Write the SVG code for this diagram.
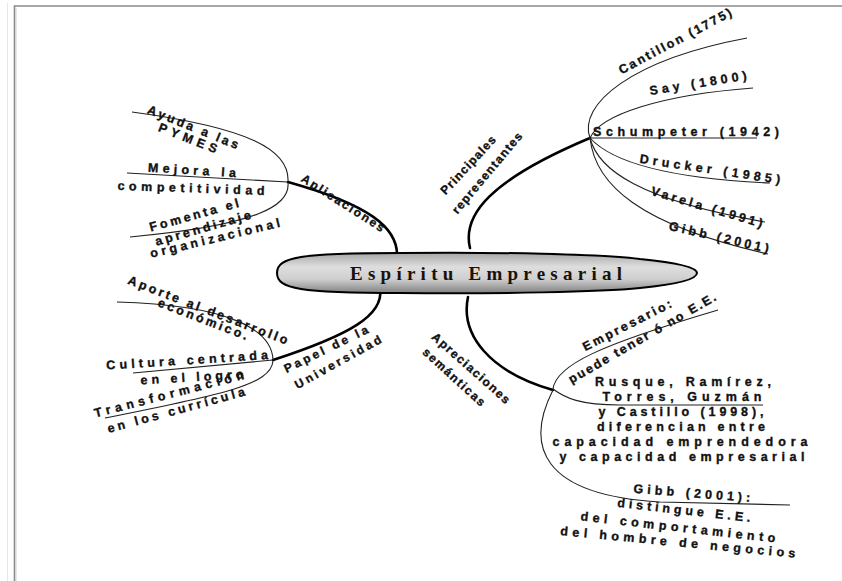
<svg xmlns="http://www.w3.org/2000/svg" width="842" height="581" viewBox="0 0 842 581">
<style>
.t{font-family:"Liberation Sans",Arial,sans-serif;font-weight:bold;font-size:12.5px;fill:#111;stroke:#111;stroke-width:0.35px;}
.s{font-size:12px;}
.br{fill:none;stroke:#222;stroke-width:1.1;}
.tr{fill:none;stroke:#000;stroke-width:2.6;stroke-linecap:round;}
.ct{font-family:"Liberation Serif","Times New Roman",serif;font-weight:bold;font-size:19px;fill:#1a1208;}
</style>
<defs>
<linearGradient id="g" x1="0" y1="0" x2="0" y2="1">
<stop offset="0" stop-color="#a6a6a6"/>
<stop offset="0.35" stop-color="#dedede"/>
<stop offset="0.65" stop-color="#cfcfcf"/>
<stop offset="1" stop-color="#808080"/>
</linearGradient>
</defs>
<rect width="842" height="581" fill="#fff"/>
<line x1="7.5" y1="3" x2="7.5" y2="581" stroke="#e6e6e6" stroke-width="1"/>
<path d="M14.5,581 V6 H842" fill="none" stroke="#8a8a8a" stroke-width="1.6"/>
<line x1="16" y1="8" x2="16" y2="581" stroke="#d0d0d0" stroke-width="1"/>

<g id="connectors">
<path class="tr" d="M470,248 C462,215 490,180 590,138"/>
<path class="tr" d="M397,256 C398,228 370,205 288,182"/>
<path class="tr" d="M380,289 C384,315 350,335 273,360"/>
<path class="tr" d="M468,297 C460,335 490,372 553,390"/>
<path class="br" d="M590,138 C578,105 630,60 747,38"/>
<path class="br" d="M590,138 C600,115 660,95 753,88"/>
<path class="br" d="M590,138 L757,138"/>
<path class="br" d="M590,138 C610,160 660,178 770,183"/>
<path class="br" d="M590,138 C598,170 640,200 765,222"/>
<path class="br" d="M590,138 C595,185 640,225 768,254"/>
<path class="br" d="M288,182 C290,150 250,128 132,112"/>
<path class="br" d="M288,182 L127,173"/>
<path class="br" d="M288,183 C290,205 260,225 130,237"/>
<path class="br" d="M273,360 C272,330 230,305 117,302"/>
<path class="br" d="M273,360 L133,373"/>
<path class="br" d="M273,361 C271,385 220,395 105,418"/>
<path class="br" d="M553,389 C556,365 600,345 718,310"/>
<path class="br" d="M553,389 C565,398 580,405 620,405 L763,405"/>
<path class="br" d="M553,390 C525,445 540,495 660,502 L790,505"/>
</g>

<g id="center">
<path d="M277,273 C277,257 300,253 400,253 C500,252 600,254 640,259 C680,263 697,268 697,273 C697,279 680,284 640,288 C600,292 500,294 400,293 C300,293 277,289 277,273 Z" fill="url(#g)" stroke="#000" stroke-width="2"/>
<text class="ct" x="350" y="280" textLength="272" lengthAdjust="spacing">Espíritu Empresarial</text>
</g>

<g id="principales">
<text class="t s" text-anchor="middle" dy=".35em" transform="translate(468,165) rotate(-47)" textLength="75" lengthAdjust="spacing">Principales</text>
<text class="t s" text-anchor="middle" dy=".35em" transform="translate(487,173) rotate(-50)" textLength="102" lengthAdjust="spacing">representantes</text>
</g>
<g id="cantillon"><text class="t" text-anchor="middle" dy=".35em" transform="translate(675,41) rotate(-28)" textLength="126" lengthAdjust="spacing">Cantillon (1775)</text></g>
<g id="say"><text class="t" text-anchor="middle" dy=".35em" transform="translate(698,83) rotate(-9)" textLength="98" lengthAdjust="spacing">Say (1800)</text></g>
<g id="schumpeter"><text class="t" x="593" y="136" textLength="186" lengthAdjust="spacing">Schumpeter (1942)</text></g>
<g id="drucker"><text class="t" text-anchor="middle" dy=".35em" transform="translate(710,169) rotate(8.5)" textLength="142" lengthAdjust="spacing">Drucker (1985)</text></g>
<g id="varela"><text class="t" text-anchor="middle" dy=".35em" transform="translate(707,207) rotate(16.5)" textLength="116" lengthAdjust="spacing">Varela (1991)</text></g>
<g id="gibb1"><text class="t" text-anchor="middle" dy=".35em" transform="translate(719,237) rotate(13)" textLength="102" lengthAdjust="spacing">Gibb (2001)</text></g>

<g id="aplicaciones">
<text class="t s" text-anchor="middle" dy=".35em" transform="translate(343,203) rotate(32.5)" textLength="96" lengthAdjust="spacing">Aplicaciones</text>
</g>
<g id="ayuda">
<text class="t" text-anchor="middle" dy=".35em" transform="translate(193,127) rotate(22)" textLength="97" lengthAdjust="spacing">Ayuda a las</text>
<text class="t" text-anchor="middle" dy=".35em" transform="translate(188,138) rotate(21.5)" textLength="62" lengthAdjust="spacing">PYMES</text>
</g>
<g id="mejora">
<text class="t" text-anchor="middle" dy=".35em" transform="translate(192,170) rotate(3.5)" textLength="88" lengthAdjust="spacing">Mejora la</text>
<text class="t" text-anchor="middle" dy=".35em" transform="translate(191,188) rotate(2)" textLength="147" lengthAdjust="spacing">competitividad</text>
</g>
<g id="fomenta">
<text class="t" text-anchor="middle" dy=".35em" transform="translate(194,215) rotate(-15.5)" textLength="92" lengthAdjust="spacing">Fomenta el</text>
<text class="t" text-anchor="middle" dy=".35em" transform="translate(203,228) rotate(-16)" textLength="99" lengthAdjust="spacing">aprendizaje</text>
<text class="t" text-anchor="middle" dy=".35em" transform="translate(215,238) rotate(-13.5)" textLength="133" lengthAdjust="spacing">organizacional</text>
</g>

<g id="papel">
<text class="t s" text-anchor="middle" dy=".35em" transform="translate(326,349) rotate(-26)" textLength="92" lengthAdjust="spacing">Papel de la</text>
<text class="t s" text-anchor="middle" dy=".35em" transform="translate(338,362) rotate(-29)" textLength="97" lengthAdjust="spacing">Universidad</text>
</g>
<g id="aporte">
<text class="t" text-anchor="middle" dy=".35em" transform="translate(208,310) rotate(21)" textLength="170" lengthAdjust="spacing">Aporte al desarrollo</text>
<text class="t" text-anchor="middle" dy=".35em" transform="translate(203,319) rotate(21)" textLength="95" lengthAdjust="spacing">económico.</text>
</g>
<g id="cultura">
<text class="t" text-anchor="middle" dy=".35em" transform="translate(187,360) rotate(-3.7)" textLength="162" lengthAdjust="spacing">Cultura centrada</text>
<text class="t" text-anchor="middle" dy=".35em" transform="translate(192,377) rotate(-3.5)" textLength="103" lengthAdjust="spacing">en el logro</text>
</g>
<g id="transformacion">
<text class="t" text-anchor="middle" dy=".35em" transform="translate(169,394) rotate(-14.5)" textLength="154" lengthAdjust="spacing">Transformación</text>
<text class="t" text-anchor="middle" dy=".35em" transform="translate(176,410) rotate(-15.3)" textLength="142" lengthAdjust="spacing">en los currícula</text>
</g>

<g id="apreciaciones">
<text class="t s" text-anchor="middle" dy=".35em" transform="translate(471,368) rotate(41.6)" textLength="100" lengthAdjust="spacing">Apreciaciones</text>
<text class="t s" text-anchor="middle" dy=".35em" transform="translate(454,377) rotate(42.4)" textLength="80" lengthAdjust="spacing">semánticas</text>
</g>
<g id="empresario">
<text class="t" text-anchor="middle" dy=".35em" transform="translate(627,325) rotate(-27)" textLength="98" lengthAdjust="spacing">Empresario:</text>
<text class="t" text-anchor="middle" dy=".35em" transform="translate(642,338) rotate(-30)" textLength="168" lengthAdjust="spacing">puede tener ó no E.E.</text>
</g>
<g id="rusque">
<text class="t" text-anchor="middle" x="683" y="386" textLength="176" lengthAdjust="spacing">Rusque, Ramírez,</text>
<text class="t" text-anchor="middle" x="682" y="401" textLength="159" lengthAdjust="spacing">Torres, Guzmán</text>
<text class="t" text-anchor="middle" x="681" y="416" textLength="165" lengthAdjust="spacing">y Castillo (1998),</text>
<text class="t" text-anchor="middle" x="681" y="431" textLength="168" lengthAdjust="spacing">diferencian entre</text>
<text class="t" text-anchor="middle" x="680" y="446" textLength="255" lengthAdjust="spacing">capacidad emprendedora</text>
<text class="t" text-anchor="middle" x="682" y="461" textLength="245" lengthAdjust="spacing">y capacidad empresarial</text>
</g>
<g id="gibb2">
<text class="t" text-anchor="middle" dy=".35em" transform="translate(692,493) rotate(4.5)" textLength="117" lengthAdjust="spacing">Gibb (2001):</text>
<text class="t" text-anchor="middle" dy=".35em" transform="translate(684,510) rotate(6.5)" textLength="134" lengthAdjust="spacing">distingue E.E.</text>
<text class="t" text-anchor="middle" dy=".35em" transform="translate(678,527) rotate(6.5)" textLength="196" lengthAdjust="spacing">del comportamiento</text>
<text class="t" text-anchor="middle" dy=".35em" transform="translate(678,542) rotate(5.5)" textLength="236" lengthAdjust="spacing">del hombre de negocios</text>
</g>
</svg>
